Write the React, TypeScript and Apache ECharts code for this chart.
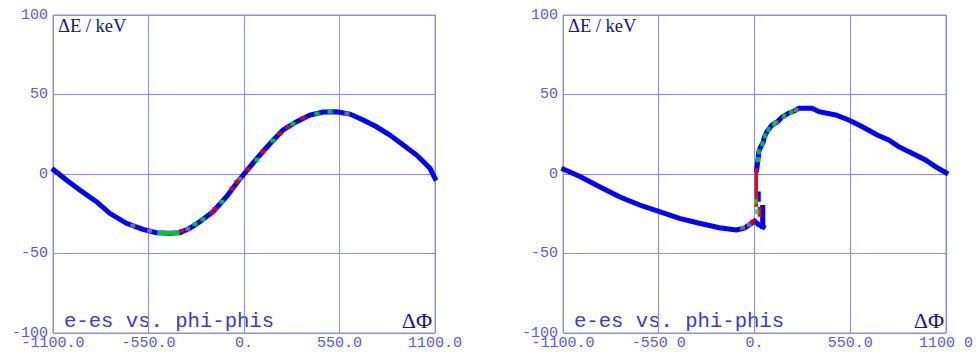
import React, { useEffect, useRef } from 'react';
import * as echarts from 'echarts';

// Tick positions and their printed labels
const X_TICKS = [-1100, -550, 0, 550, 1100];
const LEFT_X_TICK_LABELS = ['-1100.0', '-550.0', '0.', '550.0', '1100.0'];
const RIGHT_X_TICK_LABELS = ['-1100.0', '-550 0', '0.', '550.0', '1100 0'];
const Y_TICKS = [-100, -50, 0, 50, 100];
const Y_TICK_LABELS = ['-100', '-50', '0', '50', '100'];

// Left panel: energy deviation (keV) along phase deviation (deg)
const LEFT_PHASE = [-1095, -1023, -946, -850, -773, -677, -582, -504, -428, -370, -312, -255, -178, -101, -43, -5, 72, 149, 225, 303, 379, 456, 533, 610, 686, 763, 840, 917, 994, 1071, 1100];
const LEFT_DE = [2.5, -3.8, -10, -17.4, -24.7, -31, -34.8, -36.9, -37.3, -36.9, -34.2, -30, -23.7, -14.3, -5.8, -0.6, 9.5, 19, 27.7, 32.9, 37.1, 39, 39.2, 37.7, 34, 29.7, 24.5, 18.2, 11.9, 3.6, -2.7];

const LEFT_RED_PHASE = [-359, -186, -168, -70, -41, 22, 108, 206, 252, 339];
const LEFT_RED_DE = [-35.8, -24.5, -22, -9, -5, 3, 14, 25.5, 29.5, 35];
const LEFT_GREEN_PHASE = [-485, -460, -435, -410, -385, -283, -237, -128, 74, 166, 281, 420, 495];
const LEFT_GREEN_DE = [-37.1, -37.1, -37.1, -37.1, -37.1, -31.5, -28.5, -17.5, 9, 21, 31.5, 38, 39.2];
const LEFT_GRAY_PHASE = [-640, -543, -324, -24, 593];
const LEFT_GRAY_DE = [-32.5, -35.7, -34.5, -3, 38];

// Right panel: lower branch, jump at zero phase, upper branch
const RIGHT_LOW_PHASE = [-1096, -1000, -890, -776, -660, -546, -431, -317, -202, -105, -59, -30, 0, 20, 50];
const RIGHT_LOW_DE = [3, -1.7, -8, -14.3, -19.5, -23.7, -27.9, -31, -33.8, -35.2, -34, -32, -29.5, -31.5, -33.3];
const RIGHT_HIGH_PHASE = [12, 20, 25, 35, 50, 56, 73, 101, 130, 159, 199, 227, 256, 330, 371, 466, 542, 619, 705, 771, 828, 905, 982, 1039, 1100];
const RIGHT_HIGH_DE = [2.5, 9, 14, 17, 20, 23, 27, 30.8, 32.7, 35.8, 38.4, 39.6, 41.3, 41.3, 39.2, 37.1, 34, 29.7, 24.5, 21.4, 17.2, 13, 8.8, 4.6, 0.8];
const RIGHT_BLUE_COLUMN_PHASE = [47, 47];
const RIGHT_BLUE_COLUMN_DE = [-21, -33];
const RIGHT_BLUE_STUB_PHASE = [27, 27];
const RIGHT_BLUE_STUB_DE = [-12, -16.5];

const RIGHT_RED_JUMP_PHASE = [10, 10];
const RIGHT_RED_JUMP_DE = [2.5, -19.5];
const RIGHT_RED_STUB_PHASE = [27, 27];
const RIGHT_RED_STUB_DE = [-21.5, -26];
const RIGHT_RED_PHASE = [-11];
const RIGHT_RED_DE = [-30];
const RIGHT_GREEN_PHASE = [8, 15, 20, 25, 45, 60, 80, 113, 170, 210];
const RIGHT_GREEN_DE = [-17.4, -23.7, 9, 14, 19, 24, 28, 31.5, 36.3, 38.8];
const RIGHT_GRAY_PHASE = [-69, -30, 123, 240];
const RIGHT_GRAY_DE = [-33.8, -32, 32.5, 40.2];

const GRID_COLOR = '#8e8ee8';
const LABEL_COLOR = '#5b5bd6';
const TITLE_COLOR = '#1414a0';
const NOTE_COLOR = '#3a3acc';
const MONO = '"Liberation Mono", "DejaVu Sans Mono", monospace';
const SERIF = '"Liberation Serif", "DejaVu Serif", serif';

const pairs = (xs: number[], ys: number[]) => xs.map((x, i) => [x, ys[i]]);

const line = (xs: number[], ys: number[], color: string, width: number, idx: number, z = 2) => ({
  type: 'line',
  xAxisIndex: idx,
  yAxisIndex: idx,
  data: pairs(xs, ys),
  symbol: 'none',
  showSymbol: false,
  silent: true,
  z,
  lineStyle: { color, width, cap: 'square', join: 'miter' },
});

const dots = (xs: number[], ys: number[], color: string, idx: number, size: number[] = [5, 4], z = 4) => ({
  type: 'scatter',
  xAxisIndex: idx,
  yAxisIndex: idx,
  data: pairs(xs, ys),
  symbol: 'rect',
  symbolSize: size,
  silent: true,
  z,
  itemStyle: { color },
});

const GRIDS = [
  { left: 53, top: 15, width: 382, height: 318 },
  { left: 563, top: 15, width: 384, height: 318 },
];

const xAxis = (idx: number, labels: string[]) => ({
  type: 'value',
  gridIndex: idx,
  min: -1100,
  max: 1100,
  interval: 550,
  axisLine: { show: false },
  axisTick: { show: false },
  splitLine: { show: true, lineStyle: { color: GRID_COLOR, width: 1 } },
  axisLabel: {
    show: true,
    margin: 3,
    color: LABEL_COLOR,
    fontFamily: MONO,
    fontSize: 15,
    showMinLabel: true,
    showMaxLabel: true,
    formatter: (v: number) => {
      const i = X_TICKS.indexOf(Math.round(v));
      return i >= 0 ? labels[i] : '';
    },
  },
});

const yAxis = (idx: number) => ({
  type: 'value',
  gridIndex: idx,
  min: -100,
  max: 100,
  interval: 50,
  axisLine: { show: false },
  axisTick: { show: false },
  splitLine: { show: true, lineStyle: { color: GRID_COLOR, width: 1 } },
  axisLabel: {
    show: true,
    margin: 5,
    color: LABEL_COLOR,
    fontFamily: MONO,
    fontSize: 15,
    showMinLabel: true,
    showMaxLabel: true,
    formatter: (v: number) => {
      const i = Y_TICKS.indexOf(Math.round(v));
      return i >= 0 ? Y_TICK_LABELS[i] : '';
    },
  },
});

const panelTexts = (left: number, right: number) => [
  {
    type: 'text',
    x: left + 5,
    y: 26,
    silent: true,
    style: {
      text: 'ΔE / keV',
      fill: TITLE_COLOR,
      font: `18.5px ${SERIF}`,
      textAlign: 'left',
      textVerticalAlign: 'middle',
      align: 'left',
      verticalAlign: 'middle',
    },
  },
  {
    type: 'text',
    x: left + 11,
    y: 321.5,
    silent: true,
    style: {
      text: 'e-es vs. phi-phis',
      fill: NOTE_COLOR,
      font: `20.6px ${MONO}`,
      textAlign: 'left',
      textVerticalAlign: 'middle',
      align: 'left',
      verticalAlign: 'middle',
    },
  },
  {
    type: 'text',
    x: right - 3,
    y: 320,
    silent: true,
    style: {
      text: 'ΔΦ',
      fill: TITLE_COLOR,
      font: `22px ${SERIF}`,
      textAlign: 'right',
      textVerticalAlign: 'middle',
      align: 'right',
      verticalAlign: 'middle',
    },
  },
];

export default function App() {
  const ref = useRef<HTMLDivElement>(null);

  useEffect(() => {
    if (!ref.current) return;
    const chart = echarts.init(ref.current, undefined, { renderer: 'svg' });
    chart.setOption({
      animation: false,
      backgroundColor: '#ffffff',
      grid: GRIDS.map((g) => ({
        ...g,
        show: true,
        borderColor: GRID_COLOR,
        borderWidth: 1,
        backgroundColor: 'transparent',
        containLabel: false,
      })),
      xAxis: [xAxis(0, LEFT_X_TICK_LABELS), xAxis(1, RIGHT_X_TICK_LABELS)],
      yAxis: [yAxis(0), yAxis(1)],
      series: [
        // left panel
        line(LEFT_PHASE, LEFT_DE, '#0000ff', 5, 0),
        dots(LEFT_GRAY_PHASE, LEFT_GRAY_DE, '#888888', 0),
        dots(LEFT_GREEN_PHASE, LEFT_GREEN_DE, '#00ee00', 0),
        dots(LEFT_RED_PHASE, LEFT_RED_DE, '#ff0000', 0),
        // right panel
        line(RIGHT_LOW_PHASE, RIGHT_LOW_DE, '#0000ff', 5, 1),
        line(RIGHT_HIGH_PHASE, RIGHT_HIGH_DE, '#0000ff', 5, 1),
        line(RIGHT_BLUE_COLUMN_PHASE, RIGHT_BLUE_COLUMN_DE, '#0000ff', 5, 1),
        line(RIGHT_BLUE_STUB_PHASE, RIGHT_BLUE_STUB_DE, '#0000ff', 3, 1),
        line(RIGHT_RED_JUMP_PHASE, RIGHT_RED_JUMP_DE, '#ff0000', 3.5, 1, 3),
        line(RIGHT_RED_STUB_PHASE, RIGHT_RED_STUB_DE, '#ff0000', 3, 1, 3),
        dots(RIGHT_GRAY_PHASE, RIGHT_GRAY_DE, '#888888', 1),
        dots(RIGHT_GREEN_PHASE, RIGHT_GREEN_DE, '#00ee00', 1, [4, 5]),
        dots(RIGHT_RED_PHASE, RIGHT_RED_DE, '#ff0000', 1),
      ],
      graphic: [...panelTexts(53, 435), ...panelTexts(563, 947)],
    });
    return () => chart.dispose();
  }, []);

  return (
    <div
      ref={ref}
      style={{ position: 'fixed', left: 0, top: 0, width: 976, height: 352, background: '#fff' }}
    />
  );
}
